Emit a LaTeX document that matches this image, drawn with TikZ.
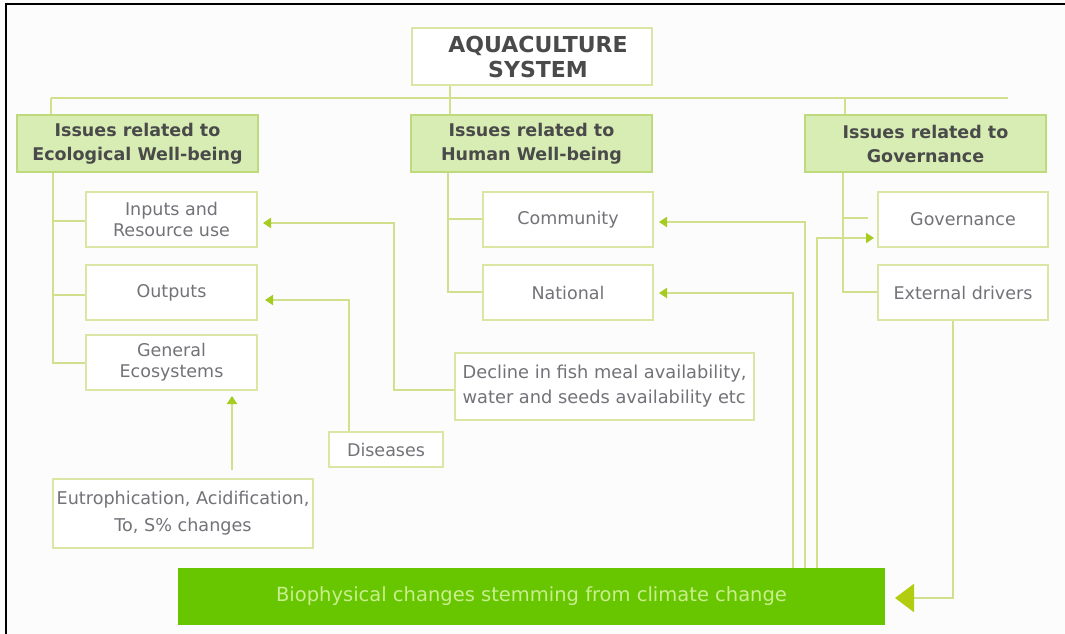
\documentclass[tikz,border=0pt]{standalone}
\usepackage{fontspec}
\setmainfont{DejaVu Sans}
\usetikzlibrary{arrows.meta}
\definecolor{ln}{HTML}{D0E08C}
\definecolor{tipC}{HTML}{A6CC22}
\definecolor{bigtip}{HTML}{B2CC10}
\definecolor{hdrF}{HTML}{D8EDB4}
\definecolor{hdrB}{HTML}{BDDB7C}
\definecolor{boxB}{HTML}{DAE6A4}
\definecolor{hdrT}{HTML}{4A4A4A}
\definecolor{txtG}{HTML}{727278}
\definecolor{barF}{HTML}{68C600}
\definecolor{barT}{HTML}{C8EE8E}
\definecolor{bg}{HTML}{FCFCFD}
\tikzset{
  hdr/.style={draw=hdrB, fill=hdrF, line width=1.5pt, minimum height=57pt,
    minimum width=241pt, inner sep=0pt, align=center,
    font=\bfseries\fontsize{17.5}{24}\selectfont, text=hdrT},
  child/.style={draw=boxB, fill=white, line width=1.8pt, minimum width=170pt,
    minimum height=55pt, inner sep=0pt, align=center,
    font=\fontsize{17.5}{21}\selectfont, text=txtG},
  conn/.style={draw=ln, line width=2.2pt},
  arr/.style={conn, -{Triangle[width=10pt,length=8pt,color=tipC]}},
}
\begin{document}
\begin{tikzpicture}[x=1pt,y=-1pt]
\fill[bg] (0,0) rectangle (1065,634);
\useasboundingbox (0,0) rectangle (1065,634);
\draw[black, line width=2.2pt] (6,634) -- (6,4) -- (1065,4);

% connectors behind boxes
\coordinate (busL) at (51,98);
\coordinate (busR) at (1008,98);
\draw[conn] (busL) -- (busR);

% nodes
\node[draw=boxB, fill=white, line width=1.8pt, minimum width=240pt, minimum height=57pt,
  inner sep=0pt, align=center, font=\bfseries\fontsize{22}{25}\selectfont, text=hdrT]
  (title) at (532,56.5) {\hspace*{12pt}AQUACULTURE\\\hspace*{12pt}SYSTEM};

\node[hdr] (eco) at (137.5,143.5) {Issues related to\\Ecological Well-being};
\node[hdr] (hum) at (531.5,143.5) {Issues related to\\Human Well-being};
\node[hdr] (gov) at (925.5,143.5) {Issues related to\\Governance};

\node[child, minimum width=171pt] (inputs) at (171.5,219.5) {Inputs and\\Resource use};
\node[child, minimum width=171pt] (outputs) at (171.5,292.5) {Outputs};
\node[child, minimum width=171pt] (general) at (171.5,362.5) {General\\Ecosystems};

\node[child] (community) at (568,219.5) {Community};
\node[child] (national) at (568,292.5) {National};

\node[child] (govc) at (963,219.5) {Governance};
\node[child] (external) at (963,292.5) {External drivers};

\node[child, minimum width=299pt, minimum height=67pt, align=left,
  font=\fontsize{17.8}{25}\selectfont] (decline) at (604.5,386.5)
  {Decline in fish meal availability,\\water and seeds availability etc};
\node[child, minimum width=114pt, minimum height=35pt] (diseases) at (386,449.5) {Diseases};
\node[child, minimum width=260pt, minimum height=69pt,
  font=\fontsize{17.6}{27}\selectfont] (eutro) at (183,513.5)
  {Eutrophication, Acidification,\\To, S\% changes};

\node[fill=barF, minimum width=707pt, minimum height=57pt, inner sep=0pt,
  font=\fontsize{19.5}{22}\selectfont, text=barT] (bio) at (531.5,596.5)
  {Biophysical changes stemming from climate change};

% tree connectors
\draw[conn] (title.south -| 450,0) -- (hum.north -| 450,0);
\draw[conn] (busL) -- (eco.north -| busL);
\draw[conn] (845,98) -- (gov.north -| 845,0);

% ecological bracket
\draw[conn] (eco.south -| 53,0) -- (53,363) -- (general.west |- 0,363);
\draw[conn] (53,221) -- (inputs.west |- 0,221);
\draw[conn] (53,295) -- (outputs.west |- 0,295);

% human bracket
\draw[conn] (hum.south -| 448,0) -- (448,292) -- (national.west |- 0,292);
\draw[conn] (448,219) -- (community.west |- 0,219);

% governance bracket
\draw[conn] (gov.south -| 843,0) -- (843,292) -- (external.west |- 0,292);
\draw[conn] (843,218) -- (868,218);

% arrows
\coordinate (tipIn) at (263,223);
\draw[arr] (decline.west |- 0,390) -- (394,390) -- (394,223) -- (tipIn);
\coordinate (tipOut) at (265,300);
\draw[arr] (diseases.north -| 349,0) -- (349,300) -- (tipOut);
\coordinate (eutroTop) at (232,470);
\coordinate (tipGen) at (232,396);
\draw[arr] (eutroTop) -- (tipGen);
\coordinate (tipCom) at (659,222);
\draw[arr] (bio.north -| 805,0) -- (805,222) -- (tipCom);
\coordinate (tipNat) at (659,293);
\draw[arr] (bio.north -| 793,0) -- (793,293) -- (tipNat);
\coordinate (tipGov) at (874,238);
\draw[arr] (bio.north -| 817,0) -- (817,238) -- (tipGov);
\coordinate (tipBio) at (895,598);
\draw[conn, -{Triangle[width=28pt,length=19pt,color=bigtip]}]
  (external.south -| 953,0) -- (953,598) -- (tipBio);
\end{tikzpicture}
\end{document}
